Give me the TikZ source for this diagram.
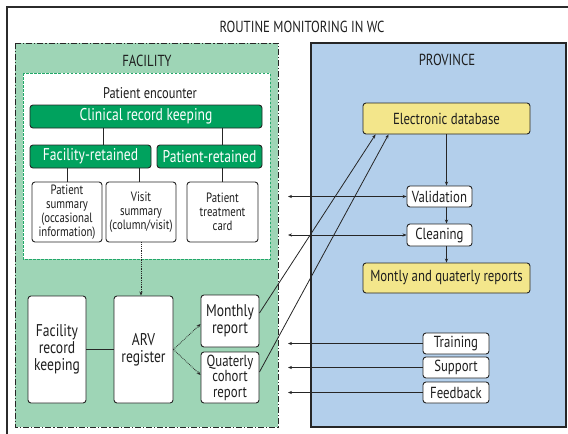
\documentclass[tikz,border=0pt]{standalone}
\usepackage{fontspec}
\setmainfont{PT Sans}[FakeStretch=0.8]
\usetikzlibrary{arrows.meta,calc,positioning}
\definecolor{frameD}{HTML}{2B2B2B}
\definecolor{facF}{HTML}{9ED5B6}
\definecolor{encD}{HTML}{22A86A}
\definecolor{crkF}{HTML}{00A25E}
\definecolor{provF}{HTML}{B3CFEB}
\definecolor{dbF}{HTML}{F3E68B}
\definecolor{boxD}{HTML}{262626}
\definecolor{txtC}{HTML}{1E1E1E}
\newcommand\fs[2]{\fontsize{#1}{#2}\selectfont}
\tikzset{
  box/.style={rounded corners=3pt, draw=boxD, line width=0.9pt, fill=white, align=center,
              inner sep=1pt, text=txtC},
  crk/.style={box, fill=crkF, text=white, font=\fs{17}{18}},
  small/.style={box, minimum width=70pt, minimum height=60pt, font=\fs{13.5}{14}},
  big/.style={box, minimum width=58pt, font=\fs{17}{17}},
  prov/.style={box, minimum width=65pt, minimum height=21pt, font=\fs{16}{17}},
  yel/.style={box, fill=dbF, minimum width=167pt, font=\fs{16}{17}},
  hd/.style={text=txtC, font=\fs{16}{17}},
  arr/.style={-{Stealth[length=4pt,width=3.2pt]}, draw=boxD, line width=0.8pt},
  darr/.style={{Stealth[length=4pt,width=3.2pt]}-{Stealth[length=4pt,width=3.2pt]}, draw=boxD, line width=0.8pt},
  dots/.style={arr, densely dotted},
  ln/.style={draw=boxD, line width=0.8pt},
}

\begin{document}
\begin{tikzpicture}[x=1pt, y=-1pt]
\useasboundingbox (0,0) rectangle (568,434);
\draw[frameD, line width=1.2pt] (7,440) -- (7,7) -- (575,7);
\node[hd] (title) at (302,27) {ROUTINE MONITORING IN WC};

\filldraw[fill=facF, draw=boxD, line width=0.9pt, dash pattern=on 6pt off 2pt on 1.2pt off 2pt]
  (15,43) rectangle (278,427);
\filldraw[fill=provF, draw=boxD, line width=1.3pt] (311,43) rectangle (566,427);
\filldraw[fill=white, draw=encD, line width=1pt, dash pattern=on 2.5pt off 1.5pt]
  (23,73) rectangle (270,259);
\node[hd] (facility) at (147,61) {FACILITY};
\node[hd] (province) at (447,60) {PROVINCE};
\node[hd, font=\fs{15.5}{16}] (encounter) at (150,93) {Patient encounter};

\node[crk, minimum width=232pt, minimum height=23pt] (clin) at (146,116.5) {Clinical record keeping};
\node[crk, minimum width=121pt, minimum height=23pt] (facret) at (90.5,156.5) {Facility-retained};
\node[crk, minimum width=105pt, minimum height=23pt] (patret) at (209.5,156.5) {Patient-retained};
\node[small] (psum) at (67,212) {Patient\\summary\\(occasional\\information)};
\node[small] (vsum) at (141,212) {Visit\\summary\\(column/visit)};
\node[small, minimum width=71pt] (ptcard) at (222.5,212) {Patient\\treatment\\card};

\node[big, minimum height=107pt] (frk) at (57,349.5) {Facility\\record\\keeping};
\node[big, minimum width=59pt, minimum height=107pt] (arv) at (143.5,349.5) {ARV\\register};
\node[big, minimum height=52pt] (monthly) at (230,321) {Monthly\\report};
\node[big, minimum height=51pt, font=\fs{16}{15.5}] (quat) at (230,377.5) {Quaterly\\cohort\\report};

\node[yel, minimum height=31pt] (edb) at (446.5,118.5) {Electronic database};
\node[prov] (valid) at (439.5,196.5) {Validation};
\node[prov, minimum height=22pt] (clean) at (439.5,235) {Cleaning};
\node[yel, minimum height=30pt] (mqr) at (446.5,278) {Montly and quaterly reports};
\node[prov, minimum width=66pt] (train) at (456,343.5) {Training};
\node[prov, minimum width=66pt] (supp) at (456,367.5) {Support};
\node[prov, minimum width=66pt] (feed) at (456,392.5) {Feedback};
\coordinate (lhs) at (288,0);

\draw[ln] ([xshift=12.5pt]facret.north) -- ([xshift=12.5pt]facret.north |- clin.south);
\draw[ln] ([xshift=12.5pt]patret.north) -- ([xshift=12.5pt]patret.north |- clin.south);
\draw[ln] (psum.north) -- (psum.north |- facret.south);
\draw[ln] ([xshift=-2pt]vsum.north) -- ([xshift=-2pt]vsum.north |- facret.south);
\draw[ln] (ptcard.north) -- (ptcard.north |- patret.south);
\draw[dots] (vsum.south) -- (vsum.south |- arv.north);
\draw[ln] (frk.east) -- (arv.west);
\draw[dots] (arv.east) -- ([yshift=-3pt]monthly.west);
\draw[dots] (arv.east) -- ([yshift=2.5pt]quat.west);
\draw[arr] ([yshift=8pt]monthly.east) -- ([xshift=13pt]edb.south west);
\draw[arr] ([yshift=5.5pt]quat.east) -- ([xshift=26pt]edb.south west);

\draw[arr] (edb.south) -- (edb.south |- valid.north);
\draw[arr] (edb.south |- valid.south) -- (edb.south |- clean.north);
\draw[arr] (edb.south |- clean.south) -- (mqr.north);
\draw[darr] (valid.west -| lhs) -- (valid.west);
\draw[darr] (clean.west -| lhs) -- (clean.west);
\draw[arr] (train.west) -- (train.west -| lhs);
\draw[arr] (supp.west) -- (supp.west -| lhs);
\draw[arr] (feed.west) -- (feed.west -| lhs);
\end{tikzpicture}
\end{document}
